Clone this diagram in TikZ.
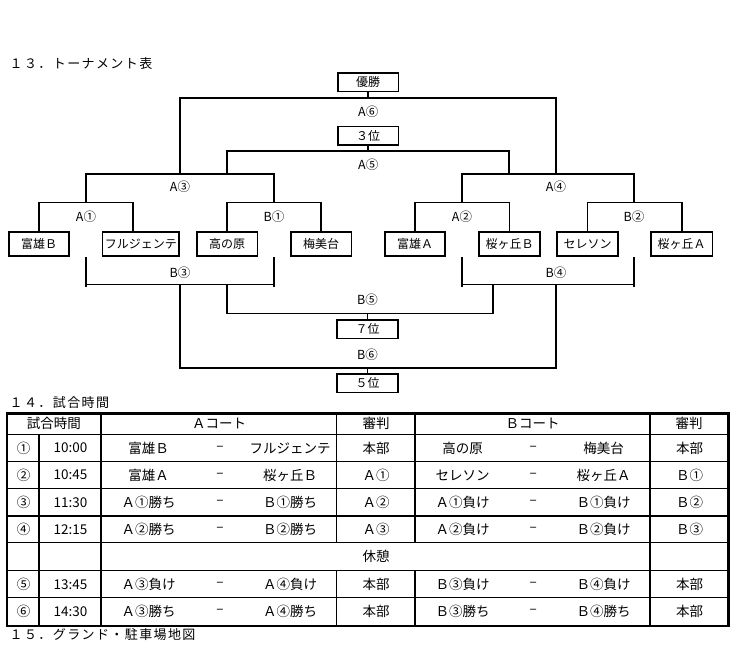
\documentclass[tikz,border=0pt]{standalone}
\usepackage{fontspec}
\setmainfont{Noto Sans CJK JP}
\def\myspaced#1{\ifx#1\relax\else#1\kern1.4pt\expandafter\myspaced\fi}
\begin{document}
\begin{tikzpicture}[x=1pt,y=-1pt,
  ln/.style={line width=1.6pt},
  teambox/.style={draw,line width=1.7pt,inner sep=0pt,minimum height=24pt,font=\fontsize{12}{12}\selectfont},
  rankbox/.style={draw,line width=1.7pt,inner sep=0pt,minimum width=60.6pt,minimum height=18.3pt,font=\fontsize{12}{12}\selectfont},
  lbl/.style={inner sep=0pt,font=\fontsize{12.5}{12.5}\selectfont},
  ttl/.style={inner sep=0pt,anchor=west,font=\fontsize{13}{13}\selectfont},
  tc/.style={inner sep=0pt,font=\fontsize{13.5}{13.5}\selectfont},
  tout/.style={line width=2.4pt},
  tmid/.style={line width=2pt},
  tin/.style={line width=1.5pt}]
\useasboundingbox (0,0) rectangle (750,648);

% ---------- titles ----------
\node[ttl] (title13) at (9.5,63.3) {\myspaced １３．トーナメント表\relax};
\node[ttl] (title14) at (9.5,403) {\myspaced １４．試合時間\relax};
\node[ttl] (title15) at (9.5,634.5) {\myspaced １５．グランド・駐車場地図\relax};

% ---------- team boxes ----------
\node[teambox,minimum width=60pt]   (tomiB) at (39.2,243.8)  {富雄Ｂ};
\node[teambox,minimum width=76.6pt] (fulu)  at (140.8,243.8) {フルジェンテ};
\node[teambox,minimum width=60.6pt] (taka)  at (227.2,243.8) {高の原};
\node[teambox,minimum width=60.6pt] (umi)   at (321.2,243.8) {梅美台};
\node[teambox,minimum width=60.3pt] (tomiA) at (415,243.8)   {富雄Ａ};
\node[teambox,minimum width=60.7pt] (sakuB) at (509.5,243.8) {桜ヶ丘Ｂ};
\node[teambox,minimum width=61.3pt] (sere)  at (587.5,243.8) {セレソン};
\node[teambox,minimum width=61.6pt] (sakuA) at (681.7,243.8) {桜ヶ丘Ａ};

% ---------- rank boxes ----------
\node[rankbox] (win)     at (368.2,82.2)  {優勝};
\node[rankbox] (third)   at (368.2,135.5) {３位};
\node[rankbox] (seventh) at (367.5,329.2) {７位};
\node[rankbox] (fifth)   at (367.5,383.3) {５位};

% ---------- upper bracket coordinates ----------
\coordinate (a1r) at (133,202.3);   \coordinate (a1m) at (86,202.3);
\coordinate (b1r) at (321.2,202.3); \coordinate (b1m) at (274,202.3);
\coordinate (a2r) at (509.5,202.3); \coordinate (a2m) at (462,202.3);
\coordinate (b2r) at (681.7,202.3); \coordinate (b2m) at (634,202.3);
\coordinate (a3l) at (86,174);  \coordinate (a3r) at (274,174); \coordinate (a3m) at (180,174);
\coordinate (a4l) at (462,174); \coordinate (a4r) at (634,174); \coordinate (a4m) at (556,174);
\coordinate (a5d1) at (227,174); \coordinate (a5d2) at (509,174);
\coordinate (a5l) at (227,150.7); \coordinate (a5r) at (509,150.7); \coordinate (a5c) at (368.2,150.7);
\coordinate (a6l) at (180,97.7);  \coordinate (a6r) at (556,97.7);  \coordinate (a6c) at (368.2,97.7);

\draw[ln] (tomiB.north) |- (a1r) -- (a1r |- fulu.north);
\draw[ln] (taka.north) |- (b1r) -- (umi.north);
\draw[ln] (tomiA.north) |- (a2r) -- (sakuB.north);
\draw[ln] (sere.north) |- (b2r) -- (sakuA.north);
\draw[ln] (a1m) -- (a3l) -- (a3r) -- (b1m);
\draw[ln] (a2m) -- (a4l) -- (a4r) -- (b2m);
\draw[ln] (a5d1) -- (a5l) -- (a5r) -- (a5d2);
\draw[ln] (a3m) -- (a6l) -- (a6r) -- (a4m);
\draw[ln] (win.south) -- (a6c);
\draw[ln] (third.south) -- (a5c);

\node[lbl] (la1) at (86,216.7)  {A①};
\node[lbl] (lb1) at (274,216.7) {B①};
\node[lbl] (la2) at (462,216.7) {A②};
\node[lbl] (lb2) at (634,216.7) {B②};
\node[lbl] (la3) at (180,187)   {A③};
\node[lbl] (la4) at (556,187)   {A④};
\node[lbl] (la5) at (368.2,165)   {A⑤};
\node[lbl] (la6) at (368.2,111.7) {A⑥};

% ---------- lower bracket coordinates ----------
\coordinate (b3t1) at (86,257.3);  \coordinate (b3e1) at (86,286.5);
\coordinate (b3t2) at (274,257.3); \coordinate (b3e2) at (274,286.5);
\coordinate (b3h1) at (86,284.3);  \coordinate (b3h2) at (274,284.3);
\coordinate (b4t1) at (462,257.3); \coordinate (b4e1) at (462,286.5);
\coordinate (b4t2) at (634,257.3); \coordinate (b4e2) at (634,286.5);
\coordinate (b4h1) at (462,284.3); \coordinate (b4h2) at (634,284.3);
\coordinate (b5u1) at (227,284.3); \coordinate (b5l) at (227,313.3);
\coordinate (b5u2) at (493,284.3); \coordinate (b5r) at (493,313.3);
\coordinate (b5c) at (367.5,313.3);
\coordinate (b6u1) at (180,284.3); \coordinate (b6l) at (180,367.7);
\coordinate (b6u2) at (556,284.3); \coordinate (b6r) at (556,367.7);
\coordinate (b6c) at (367.5,367.7);

\draw[ln] (b3t1) -- (b3e1); \draw[ln] (b3t2) -- (b3e2); \draw[ln] (b3h1) -- (b3h2);
\draw[ln] (b4t1) -- (b4e1); \draw[ln] (b4t2) -- (b4e2); \draw[ln] (b4h1) -- (b4h2);
\draw[ln] (b5u1) -- (b5l) -- (b5r) -- (b5u2);
\draw[ln] (b6u1) -- (b6l) -- (b6r) -- (b6u2);
\draw[ln] (b5c) -- (seventh.north);
\draw[ln] (b6c) -- (fifth.north);

\node[lbl] (lb3) at (180,272.7) {B③};
\node[lbl] (lb4) at (556,272.7) {B④};
\node[lbl] (lb5) at (367.5,300)   {B⑤};
\node[lbl] (lb6) at (367.5,354.3) {B⑥};

% ---------- table ----------
\draw[tin] (6.7,434.3) -- (728.3,434.3);
\foreach \yy in {461.7,488.3,516,542.7,570.7,597.7}
  \draw[tin] (6.7,\yy) -- (728.3,\yy);
\draw[tin] (39,434.3) -- (39,625.7);
\draw[tmid] (101,413.3) -- (101,625.7);
\draw[tin] (336.7,413.3) -- (336.7,542.7);
\draw[tin] (336.7,570.7) -- (336.7,625.7);
\draw[tmid] (415,413.3) -- (415,542.7);
\draw[tmid] (415,570.7) -- (415,625.7);
\draw[tin] (650,413.3) -- (650,625.7);
\draw[tout] (6.7,413.3) rectangle (728.3,625.7);

\node[tc] (hd1) at (54,423.8)    {試合時間};
\node[tc] (hd2) at (219,423.8)   {Ａコート};
\node[tc] (hd3) at (376,423.8)   {審判};
\node[tc] (hd4) at (532.5,423.8) {Ｂコート};
\node[tc] (hd5) at (689,423.8)   {審判};

\foreach \r/\yy/\nn/\tt/\aa/\ab/\ra/\ba/\bb/\rb in {
  1/448/①/10:00/富雄Ｂ/フルジェンテ/本部/高の原/梅美台/本部,
  2/475/②/10:45/富雄Ａ/桜ヶ丘Ｂ/Ａ①/セレソン/桜ヶ丘Ａ/Ｂ①,
  3/502.2/③/11:30/Ａ①勝ち/Ｂ①勝ち/Ａ②/Ａ①負け/Ｂ①負け/Ｂ②,
  4/529.3/④/12:15/Ａ②勝ち/Ｂ②勝ち/Ａ③/Ａ②負け/Ｂ②負け/Ｂ③,
  5/584.2/⑤/13:45/Ａ③負け/Ａ④負け/本部/Ｂ③負け/Ｂ④負け/本部,
  6/611.7/⑥/14:30/Ａ③勝ち/Ａ④勝ち/本部/Ｂ③勝ち/Ｂ④勝ち/本部}{
  \node[tc] (n\r)  at (23.5,\yy)  {\nn};
  \node[tc] (t\r)  at (70.5,\yy)  {\tt};
  \node[tc] (aa\r) at (148.5,\yy) {\aa};
  \node[tc] (da\r) at (220,\yy)   {–};
  \node[tc] (ab\r) at (290,\yy)   {\ab};
  \node[tc] (ra\r) at (376,\yy)   {\ra};
  \node[tc] (ba\r) at (462.5,\yy) {\ba};
  \node[tc] (db\r) at (533.3,\yy) {–};
  \node[tc] (bb\r) at (603.5,\yy) {\bb};
  \node[tc] (rb\r) at (689.5,\yy) {\rb};
}
\node[tc] (rest) at (376,556.7) {休憩};
\end{tikzpicture}
\end{document}
